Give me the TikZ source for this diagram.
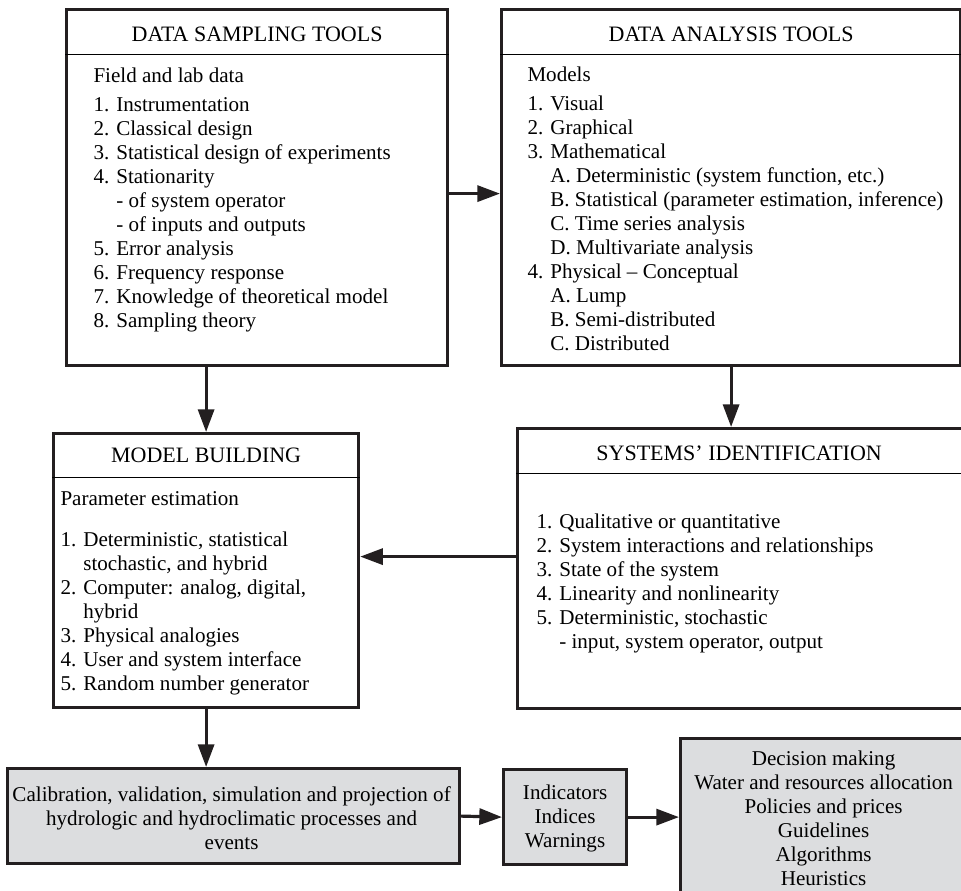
\documentclass[tikz,border=0pt]{standalone}
\usepackage{fontspec}
\setmainfont{Liberation Serif}
\usetikzlibrary{arrows.meta,calc}

\definecolor{framecol}{RGB}{35,31,32}
\definecolor{boxfill}{RGB}{220,221,223}

\tikzset{every picture/.style={line width=0.75pt}}
\tikzset{
	frame/.style={draw=framecol, line width=2.4pt, rectangle, inner sep=0pt, anchor=north west},
	shaded/.style={frame, fill=boxfill},
	boxtitle/.style={font=\fontsize{16.5}{18}\selectfont, inner sep=0pt, anchor=base},
	bodytext/.style={font=\fontsize{15.8}{18}\selectfont, align=left, inner sep=0pt, anchor=base west},
	midtext/.style={font=\fontsize{15.8}{18}\selectfont, align=center, inner sep=0pt},
	flow/.style={draw=framecol, line width=2.4pt, -{Triangle[length=17pt,width=12pt]}}}

\begin{document}
\begin{tikzpicture}[x=0.75pt,y=0.75pt,yscale=-1,xscale=1]
	\useasboundingbox (0,0) rectangle (961,890);

	%Shape: Rectangle [data sampling tools]
	\node[frame, minimum width=381*0.75pt, minimum height=356*0.75pt] (dst) at (65,8) {};
	\node[boxtitle] (dstT) at ($(dst.north)+(0,33)$) {DATA SAMPLING TOOLS};
	\draw ($(dst.north west)+(0,46)$) -- ($(dst.north east)+(0,46)$);
	% Text Node (anchored on its last line)
	\node[bodytext] (dstB) at ($(dst.north west)+(28,319)$) {Field and lab data\\[3.75pt]
		1. Instrumentation\\
		2. Classical design\\
		3. Statistical design of experiments\\
		4. Stationarity\\
		\phantom{1. }- of system operator\\
		\phantom{1. }- of inputs and outputs\\
		5. Error analysis\\
		6. Frequency response\\
		7. Knowledge of theoretical model\\
		8. Sampling theory};

	%Shape: Rectangle [data analysis tools]
	\node[frame, minimum width=459*0.75pt, minimum height=356*0.75pt] (dat) at (500,8) {};
	\node[boxtitle] (datT) at ($(dat.north)+(0,33)$) {DATA ANALYSIS TOOLS};
	\draw ($(dat.north west)+(0,46)$) -- ($(dat.north east)+(0,46)$);
	% Text Node
	\node[bodytext] (datB) at ($(dat.north west)+(27,342)$) {Models\\[3.75pt]
		1. Visual\\
		2. Graphical\\
		3. Mathematical\\
		\phantom{1. }A. Deterministic (system function, etc.)\\
		\phantom{1. }B. Statistical (parameter estimation, inference)\\
		\phantom{1. }C. Time series analysis\\
		\phantom{1. }D. Multivariate analysis\\
		4. Physical -- Conceptual\\
		\phantom{1. }A. Lump\\
		\phantom{1. }B. Semi-distributed\\
		\phantom{1. }C. Distributed};

	%Shape: Rectangle [model building]
	\node[frame, minimum width=305*0.75pt, minimum height=274*0.75pt] (mb) at (52,432) {};
	\node[boxtitle] (mbT) at ($(mb.north)+(0,30)$) {MODEL BUILDING};
	\draw ($(mb.north west)+(0,45)$) -- ($(mb.north east)+(0,45)$);
	% Text Node
	\node[bodytext] (mbB) at ($(mb.north west)+(8,258)$) {Parameter estimation\\[12.75pt]
		1. Deterministic, statistical\\
		\phantom{1. }stochastic, and hybrid\\
		2. Computer: analog, digital,\\
		\phantom{1. }hybrid\\
		3. Physical analogies\\
		4. User and system interface\\
		5. Random number generator};

	%Shape: Rectangle [systems' identification]
	\node[frame, minimum width=449*0.75pt, minimum height=280*0.75pt] (sid) at (516,427) {};
	\node[boxtitle] (sidT) at ($(sid.north)+(-3,33)$) {SYSTEMS’ IDENTIFICATION};
	\draw ($(sid.north west)+(0,46)$) -- ($(sid.north east)+(0,46)$);
	% Text Node
	\node[bodytext] (sidB) at ($(sid.north west)+(20,221)$) {1. Qualitative or quantitative\\
		2. System interactions and relationships\\
		3. State of the system\\
		4. Linearity and nonlinearity\\
		5. Deterministic, stochastic\\
		\phantom{1. }- input, system operator, output};

	%Shape: Rectangle [bottom row]
	\node[shaded, minimum width=452*0.75pt, minimum height=95*0.75pt] (cal) at (6,767) {};
	\node[midtext] (calT) at ($(cal.center)+(-2,2)$) {Calibration, validation, simulation and projection of\\
		hydrologic and hydroclimatic processes and\\
		events};
	\node[shaded, minimum width=123*0.75pt, minimum height=95*0.75pt] (ind) at (502,768) {};
	\node[midtext] (indT) at ($(ind.center)+(0,1)$) {Indicators\\Indices\\Warnings};
	\node[shaded, minimum width=286*0.75pt, minimum height=162*0.75pt] (dec) at (679,737) {};
	\node[midtext, anchor=north] (decT) at ($(dec.north)+(0,13)$) {Decision making\\
		Water and resources allocation\\
		Policies and prices\\
		Guidelines\\
		Algorithms\\
		Heuristics};

	%Straight Lines
	\draw[flow] ([yshift=4.5pt]dst.east) -- ([yshift=4.5pt]dst.east -| dat.west);
	\draw[flow] (dst.south -| mb.north) -- (mb.north);
	\draw[flow] (dat.south) -- (dat.south |- sid.north);
	\draw[flow] ([yshift=-9pt]sid.west) -- ([yshift=-9pt]sid.west -| mb.east);
	\draw[flow] (mb.south) -- (mb.south |- cal.north);
	\draw[flow] (cal.east) -- (ind.west);
	\draw[flow] (ind.east) -- (ind.east -| dec.west);

\end{tikzpicture}
\end{document}
